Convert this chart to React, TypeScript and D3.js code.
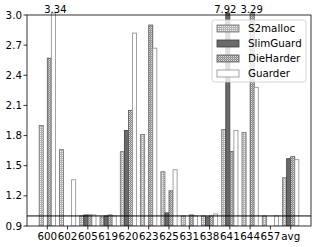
import React from 'react';
import * as d3 from 'd3';

const categories = ['600', '602', '605', '619', '620', '623', '625', '631', '638', '641', '644', '657', 'avg'];
const seriesNames = ['S2malloc', 'SlimGuard', 'DieHarder', 'Guarder'];
const s2malloc = [1.9, 1.66, 1.0, 0.99, 1.64, 1.81, 1.44, 1.0, 1.0, 1.86, 1.83, 1.0, 1.38];
const slimguard = [null, null, 1.01, 1.0, 1.85, null, 1.03, null, 0.99, 7.92, null, null, 1.57];
const dieharder = [2.57, null, 1.01, 1.01, 2.05, 2.9, 1.25, 1.01, 1.0, 1.64, 3.29, null, 1.59];
const guarder = [3.34, 1.36, 1.01, 1.0, 2.82, 2.67, 1.46, 1.0, 1.02, 1.85, 2.28, 1.0, 1.56];
const yTicks = [0.9, 1.2, 1.5, 1.8, 2.1, 2.4, 2.7, 3.0];

const W = 316;
const H = 247;
const margin = { top: 15, right: 5, bottom: 21, left: 27 };
const FONT = 'DejaVu Sans, sans-serif';

const fills = ['url(#pS2)', '#6a6a6a', 'url(#pDie)', '#ffffff'];
const strokes = ['#6e6e6e', '#3c3c3c', '#555555', '#8c8c8c'];

export default function App() {
  const data = [s2malloc, slimguard, dieharder, guarder];
  const innerW = W - margin.left - margin.right;
  const innerH = H - margin.top - margin.bottom;

  const x = d3.scaleLinear().domain([-1, 13]).range([0, innerW]);
  const y = d3.scaleLinear().domain([0.9, 3.0]).range([innerH, 0]);
  const bw = x(0.2) - x(0);

  const bars: JSX.Element[] = [];
  const labels: JSX.Element[] = [];
  data.forEach((vals, s) => {
    vals.forEach((v, i) => {
      if (v == null) return;
      const x0 = x(i) + (s - 2) * bw;
      const top = Math.max(y(v), -2);
      bars.push(
        <rect key={`b${s}-${i}`} x={x0} y={top} width={bw} height={innerH - top}
          fill={fills[s]} stroke={strokes[s]} strokeWidth={0.8} />
      );
      if (v > 3.0) {
        // off-scale values are printed above the top spine
        const dx = s === 3 ? 2 : s === 1 ? -2.5 : -0.5;
        labels.push(
          <text key={`l${s}-${i}`} x={x0 + bw / 2 + dx} y={-2} textAnchor="middle"
            fontSize={10} fontFamily={FONT} fill="#000">{v.toFixed(2)}</text>
        );
      }
    });
  });

  const legX = 212 - margin.left;
  const legY = 20 - margin.top;

  return (
    <svg width={W} height={H} style={{ position: 'absolute', left: 0, top: 0, background: '#fff' }}>
      <defs>
        <pattern id="pS2" patternUnits="userSpaceOnUse" width={2} height={2}>
          <rect width={2} height={2} fill="#b4b4b4" />
          <rect x={1} y={0} width={1} height={1} fill="#f0f0f0" />
        </pattern>
        <pattern id="pDie" patternUnits="userSpaceOnUse" width={2} height={2}>
          <rect width={2} height={2} fill="#8a8a8a" />
          <rect x={0} y={0} width={1} height={1} fill="#e0e0e0" />
          <rect x={1} y={1} width={1} height={1} fill="#b0b0b0" />
        </pattern>
        <clipPath id="clip">
          <rect x={0} y={-20} width={innerW} height={innerH + 20} />
        </clipPath>
      </defs>
      <g transform={`translate(${margin.left},${margin.top})`}>
        <g clipPath="url(#clip)">{bars}</g>
        <line x1={0} x2={innerW} y1={y(1.0)} y2={y(1.0)} stroke="#000" strokeWidth={1} />
        {labels}
        {/* legend */}
        <g transform={`translate(${legX},${legY})`}>
          <rect x={0} y={0} width={94} height={62} rx={2.5} fill="#fff" fillOpacity={0.8}
            stroke="#cccccc" strokeWidth={0.8} />
          {seriesNames.map((n, k) => (
            <g key={n} transform={`translate(5,${8 + k * 15})`}>
              <rect x={0} y={-3} width={22} height={7} fill={fills[k]} stroke={strokes[k]} strokeWidth={0.8} />
              <text x={31} y={4} fontSize={10.3} fontFamily={FONT} fill="#000">{n}</text>
            </g>
          ))}
        </g>
        {/* axes */}
        <rect x={0} y={0} width={innerW} height={innerH} fill="none" stroke="#000" strokeWidth={0.8} />
        {yTicks.map(t => (
          <g key={t} transform={`translate(0,${y(t)})`}>
            <line x1={-3.5} x2={0} stroke="#000" strokeWidth={0.8} />
            <text x={-5} dy="0.35em" textAnchor="end" fontSize={10.3} fontFamily={FONT} fill="#000">{t.toFixed(1)}</text>
          </g>
        ))}
        {categories.map((c, i) => (
          <g key={c} transform={`translate(${x(i)},${innerH})`}>
            <line y1={0} y2={3.5} stroke="#000" strokeWidth={0.8} />
            <text y={14} textAnchor="middle" fontSize={10.3} fontFamily={FONT} fill="#000">{c}</text>
          </g>
        ))}
      </g>
    </svg>
  );
}
